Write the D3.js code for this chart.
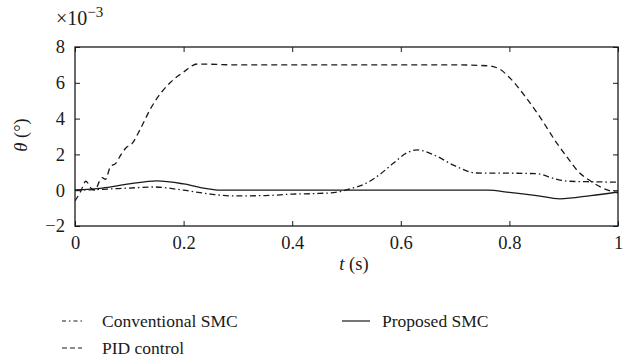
<!DOCTYPE html>
<html><head><meta charset="utf-8">
<script src="https://cdn.jsdelivr.net/npm/d3@7"></script>
<style>body{margin:0;background:#fff}svg{display:block}</style>
</head><body><svg id="c" width="631" height="359"></svg>
<script>
// values are in units of 1e-3 degrees
const pidT = [0,0.01,0.02,0.03,0.037,0.045,0.05,0.056,0.065,0.075,0.085,0.095,0.105,0.12,0.14,0.16,0.175,0.2,0.225,0.3,0.4,0.5,0.6,0.7,0.76,0.78,0.8,0.83,0.856,0.888,0.91,0.925,0.95,0.973,1.0];
const pidV = [-0.6,-0.1,0.5,0.1,0.0,0.5,0.7,0.6,1.3,1.5,2.0,2.4,2.6,3.4,4.6,5.5,6.0,6.6,7.05,7.0,7.0,7.0,7.0,7.0,6.95,6.8,6.3,5.2,4.1,2.6,1.7,1.1,0.5,0.1,-0.15];
const convT = [0,0.05,0.1,0.145,0.2,0.25,0.29,0.35,0.4,0.45,0.48,0.506,0.537,0.56,0.586,0.61,0.63,0.666,0.697,0.74,0.8,0.85,0.888,0.91,0.95,1.0];
const convV = [0,0.05,0.12,0.18,0.0,-0.22,-0.32,-0.3,-0.22,-0.18,-0.12,0.07,0.4,0.85,1.5,2.07,2.25,1.9,1.4,0.96,0.95,0.92,0.6,0.5,0.47,0.45];
const propT = [0,0.05,0.1,0.15,0.2,0.24,0.267,0.4,0.6,0.76,0.8,0.85,0.893,0.95,1.0];
const propV = [0,0.12,0.35,0.52,0.35,0.1,0,0,0,0,-0.12,-0.3,-0.48,-0.3,-0.1];
const xTicks = [0,0.2,0.4,0.6,0.8,1];
const yTicks = [-2,0,2,4,6,8];
const seriesNames = ["Conventional SMC","PID control","Proposed SMC"];

const FONT = "'Liberation Serif','Times New Roman','DejaVu Serif',serif";
const svg = d3.select("#c").attr("font-family",FONT);
const L=75,R=618,T=47,B=226;
const x = d3.scaleLinear().domain([0,1]).range([L,R]);
const y = d3.scaleLinear().domain([-2,8]).range([B,T]);
const col="#1a1a1a";

const g = svg.append("g");
const line = d3.line().x(d=>x(d[0])).y(d=>y(d[1])).curve(d3.curveMonotoneX);
svg.append("clipPath").attr("id","cp").append("rect").attr("x",L).attr("y",T).attr("width",R-L).attr("height",B-T);
const styles = {
  conv:{dash:"6,3,1.5,3"},
  pid:{dash:"6,4"},
  prop:{dash:null}
};
function draw(ts,vs,st){
  const p = g.append("path").datum(ts.map((t,i)=>[t,vs[i]]))
   .attr("d",line).attr("fill","none").attr("stroke",col).attr("stroke-width",1.3)
   .attr("clip-path","url(#cp)");
  if(st.dash) p.attr("stroke-dasharray",st.dash);
}
draw(propT,propV,styles.prop);
draw(convT,convV,styles.conv);
draw(pidT,pidV,styles.pid);

const ax = svg.append("g");
ax.append("g").attr("transform",`translate(0,${B})`).call(d3.axisBottom(x).tickValues(xTicks).tickSizeInner(-5).tickSizeOuter(0).tickPadding(10).tickFormat(d=>d===0||d===1?d3.format("d")(d):d3.format(".1f")(d)));
ax.append("g").attr("transform",`translate(0,${T})`).call(d3.axisTop(x).tickValues(xTicks).tickSizeInner(-5).tickSizeOuter(0).tickFormat(""));
ax.append("g").attr("transform",`translate(${L},0)`).call(d3.axisLeft(y).tickValues(yTicks).tickSizeInner(-5).tickSizeOuter(0).tickPadding(10).tickFormat(d=>d<0?"\u2212"+Math.abs(d):d));
ax.append("g").attr("transform",`translate(${R},0)`).call(d3.axisRight(y).tickValues(yTicks).tickSizeInner(-5).tickSizeOuter(0).tickFormat(""));
ax.selectAll("g").attr("font-family",FONT);
ax.selectAll(".domain").remove();
ax.selectAll("line").attr("stroke",col).attr("stroke-width",1);
ax.selectAll("text").attr("font-size",18.5).attr("fill",col).attr("font-family",FONT);
svg.append("rect").attr("x",L).attr("y",T).attr("width",R-L).attr("height",B-T).attr("fill","none").attr("stroke",col).attr("stroke-width",1.3);

const mt = svg.append("text").attr("x",56).attr("y",25).attr("font-size",20).attr("fill",col);
mt.append("tspan").text("\u00d710");
mt.append("tspan").attr("dy",-8).attr("font-size",15).text("\u22123");

svg.append("text").attr("transform","translate(27,135) rotate(-90)").attr("text-anchor","middle").attr("font-size",18.5).attr("fill",col)
  .html('<tspan font-style="italic">θ</tspan> (°)');
svg.append("text").attr("x",354).attr("y",270).attr("text-anchor","middle").attr("font-size",18.5).attr("fill",col)
  .html('<tspan font-style="italic">t</tspan> (s)');

const leg = [
  {name:seriesNames[0],dash:"4,3,1.5,3",x1:62,x2:82,y:321,tx:102},
  {name:seriesNames[1],dash:"5,3",x1:62,x2:82,y:348,tx:102},
  {name:seriesNames[2],dash:null,x1:342,x2:370,y:321,tx:382}
];
leg.forEach(l=>{
  const ln = svg.append("line").attr("x1",l.x1).attr("x2",l.x2).attr("y1",l.y).attr("y2",l.y).attr("stroke",col).attr("stroke-width",1.2);
  if(l.dash) ln.attr("stroke-dasharray",l.dash);
  svg.append("text").attr("x",l.tx).attr("y",l.y+6).attr("font-size",17.5).attr("fill",col).text(l.name);
});
</script></body></html>
